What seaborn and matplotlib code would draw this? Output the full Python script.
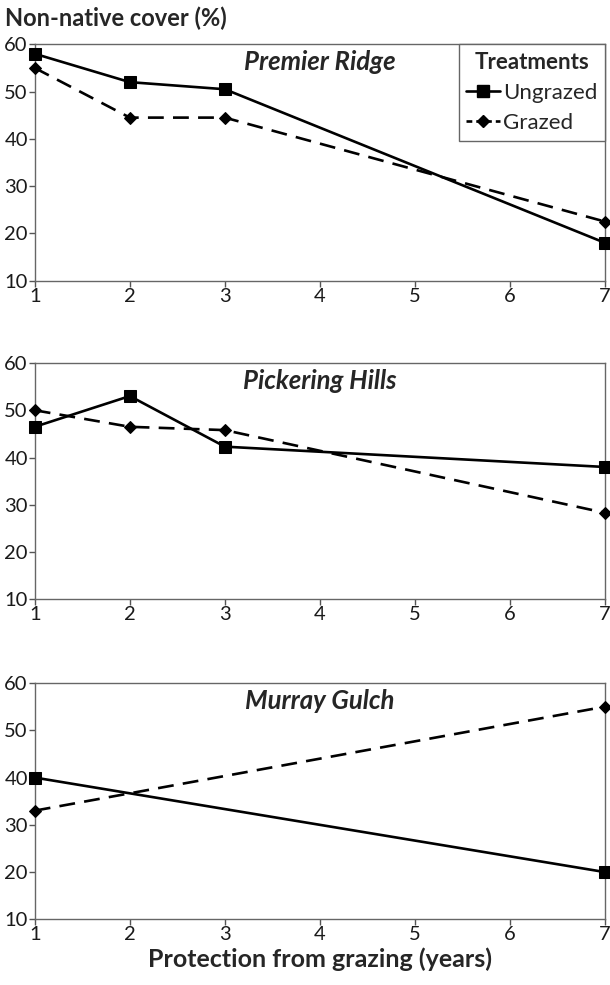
import matplotlib
matplotlib.use("Agg")
import matplotlib.pyplot as plt
import seaborn as sns
import pandas as pd
from matplotlib.lines import Line2D

sns.set_theme(style="white")
plt.rcParams['font.family'] = ['Lato', 'DejaVu Sans']

sites = ["Premier Ridge", "Pickering Hills", "Murray Gulch"]
treatments = ["Ungrazed", "Grazed"]

years_pr = [1, 2, 3, 7]
pr_ungrazed = [58, 52, 50.5, 18]
pr_grazed = [55, 44.5, 44.5, 22.5]

years_ph = [1, 2, 3, 7]
ph_ungrazed = [46.5, 53, 42.3, 38]
ph_grazed = [50, 46.5, 45.8, 28.3]

years_mg = [1, 7]
mg_ungrazed = [40, 20]
mg_grazed = [33, 55]

x_ticks = [1, 2, 3, 4, 5, 6, 7]
y_ticks = [10, 20, 30, 40, 50, 60]

rows = []
for site, yrs, ung, grz in [
    (sites[0], years_pr, pr_ungrazed, pr_grazed),
    (sites[1], years_ph, ph_ungrazed, ph_grazed),
    (sites[2], years_mg, mg_ungrazed, mg_grazed),
]:
    for x, v in zip(yrs, ung):
        rows.append({"Site": site, "Year": x, "Cover": v, "Treatment": "Ungrazed"})
    for x, v in zip(yrs, grz):
        rows.append({"Site": site, "Year": x, "Cover": v, "Treatment": "Grazed"})
df = pd.DataFrame(rows)

fig = plt.figure(figsize=(6.10, 9.85), dpi=100)
left, width = 0.057, 0.935
tops = [0.955, 0.6315, 0.3066]
height = 0.240
LW = 1.9
DASH = (6, 3.5)

for i, site in enumerate(sites):
    ax = fig.add_axes([left, tops[i] - height, width, height])
    sub = df[df["Site"] == site]
    sns.lineplot(data=sub, x="Year", y="Cover", hue="Treatment", style="Treatment",
                 hue_order=treatments, style_order=treatments,
                 palette={"Ungrazed": "black", "Grazed": "black"},
                 dashes={"Ungrazed": "", "Grazed": DASH},
                 markers={"Ungrazed": "s", "Grazed": "D"},
                 ax=ax, linewidth=LW, legend=False, zorder=3)
    for ln in ax.lines:
        if ln.get_linestyle() == '-':
            ln.set_markersize(9)
        else:
            ln.set_markersize(6)
        ln.set_markeredgecolor("black")
        ln.set_clip_on(False)
    ax.set_xlim(1, 7)
    ax.set_ylim(10, 60)
    ax.set_xticks(x_ticks)
    ax.set_yticks(y_ticks)
    ax.tick_params(axis="both", direction="out", length=4, width=1, color="#555555",
                   labelsize=14.5, pad=1, bottom=True, left=True, labelcolor="#1a1a1a")
    ax.set_xlabel("")
    ax.set_ylabel("")
    for s in ax.spines.values():
        s.set_visible(True)
        s.set_color("#666666")
        s.set_linewidth(1.0)
    ax.text(0.5, 0.925, site, transform=ax.transAxes, ha="center", va="center",
            fontsize=18.5, fontweight="bold", fontstyle="italic")
    if i == 0:
        handles = [Line2D([], [], color="black", lw=LW, marker="s", markersize=9),
                   Line2D([], [], color="black", lw=LW, ls=(0, (2.2, 1.5)), marker="D", markersize=6)]
        leg = ax.legend(handles, treatments, title="Treatments", loc="upper right",
                        bbox_to_anchor=(1.0, 1.0), frameon=True, fancybox=False,
                        fontsize=16, title_fontproperties={"weight": "bold", "size": 16},
                        handlelength=1.5, handletextpad=0.15, borderpad=0.35,
                        labelspacing=0.45, borderaxespad=0.0)
        leg.get_frame().set_edgecolor("#666666")
        leg.get_frame().set_linewidth(1.0)
        leg.get_frame().set_alpha(1)
    if i == 2:
        ax.set_xlabel("Protection from grazing (years)", fontsize=18, fontweight="bold", labelpad=3)

fig.text(0.008, 0.981, "Non-native cover (%)", fontsize=17, fontweight="bold", ha="left", va="center")

fig.savefig("out.png", dpi=100, facecolor="white")
